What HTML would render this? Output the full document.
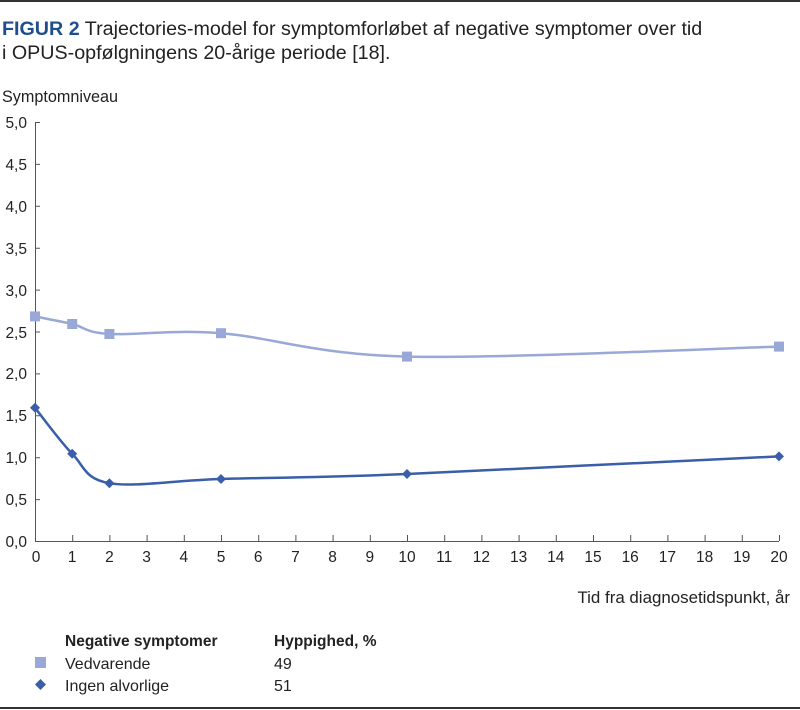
<!DOCTYPE html><html><head><meta charset="utf-8"><style>body{margin:0;background:#fff}svg{display:block;font-family:"Liberation Sans",sans-serif}</style></head><body>
<svg width="800" height="710" xmlns="http://www.w3.org/2000/svg">
<rect x="0" y="0" width="800" height="2" fill="#333"/>
<rect x="0" y="707" width="800" height="2" fill="#333"/>
<text x="2" y="35" font-size="19.7" fill="#222"><tspan fill="#1f4e8c" font-weight="bold">FIGUR 2</tspan> Trajectories-model for symptomforløbet af negative symptomer over tid</text>
<text x="2" y="59" font-size="19.7" fill="#222">i OPUS-opfølgningens 20-årige periode [18].</text>
<text x="2" y="102" font-size="16.2" fill="#222">Symptomniveau</text>
<g font-size="15.5" fill="#222" text-anchor="end">
<text x="27" y="128">5,0</text><text x="27" y="170">4,5</text><text x="27" y="212">4,0</text><text x="27" y="254">3,5</text><text x="27" y="296">3,0</text><text x="27" y="338">2,5</text><text x="27" y="379">2,0</text><text x="27" y="421">1,5</text><text x="27" y="463">1,0</text><text x="27" y="505">0,5</text><text x="27" y="547">0,0</text>
</g>
<g stroke="#555" stroke-width="1" fill="none">
<path d="M35.5 122V541.5H779"/>
<path d="M35 122.5h5M35 164.4h5M35 206.3h5M35 248.2h5M35 290.1h5M35 332h5M35 373.9h5M35 415.8h5M35 457.7h5M35 499.6h5"/>
<path d="M72.7 541v-6M109.9 541v-6M147.1 541v-6M184.3 541v-6M221.5 541v-6M258.7 541v-6M295.9 541v-6M333.1 541v-6M370.3 541v-6M407.5 541v-6M444.7 541v-6M481.9 541v-6M519.1 541v-6M556.3 541v-6M593.5 541v-6M630.7 541v-6M667.9 541v-6M705.1 541v-6M742.3 541v-6M779.5 541v-6"/>
</g>
<g font-size="15.5" fill="#222" text-anchor="middle">
<text x="36" y="562">0</text><text x="72.2" y="562">1</text><text x="109.4" y="562">2</text><text x="146.6" y="562">3</text><text x="183.8" y="562">4</text><text x="221" y="562">5</text><text x="258.2" y="562">6</text><text x="295.4" y="562">7</text><text x="332.6" y="562">8</text><text x="369.8" y="562">9</text><text x="407" y="562">10</text><text x="444.2" y="562">11</text><text x="481.4" y="562">12</text><text x="518.6" y="562">13</text><text x="555.8" y="562">14</text><text x="593" y="562">15</text><text x="630.2" y="562">16</text><text x="667.4" y="562">17</text><text x="704.6" y="562">18</text><text x="741.8" y="562">19</text><text x="779" y="562">20</text>
</g>
<text x="790" y="603" font-size="16.9" fill="#222" text-anchor="end">Tid fra diagnosetidspunkt, år</text>
<path d="M35 316.4C41.2 317.7 59.8 321.1 72.2 324C84.6 326.9 84.6 332.5 109.4 334C134.2 335.5 171.4 329.4 221 333.2C270.6 337 314 354.4 407 356.6C500 358.8 717 348.3 779 346.6" stroke="#99a8d6" stroke-width="2.5" fill="none"/>
<path d="M35 407.8C41.2 415.5 59.8 441.2 72.2 453.8C84.6 466.4 84.6 479 109.4 483.2C134.2 487.4 171.4 480.5 221 479C270.6 477.5 314 477.8 407 474C500 469.6 717 459.3 779 456.4" stroke="#3a5ea8" stroke-width="2.5" fill="none"/>
<g fill="#99a8d6"><rect x="30" y="311.4" width="10" height="10"/><rect x="67.2" y="319" width="10" height="10"/><rect x="104.4" y="329" width="10" height="10"/><rect x="216" y="328.2" width="10" height="10"/><rect x="402" y="351.6" width="10" height="10"/><rect x="774" y="341.6" width="10" height="10"/></g>
<g fill="#3a5ea8"><path d="M35 402.8l5 5-5 5-5-5z"/><path d="M72.2 448.8l5 5-5 5-5-5z"/><path d="M109.4 478.2l5 5-5 5-5-5z"/><path d="M221 474l5 5-5 5-5-5z"/><path d="M407 469l5 5-5 5-5-5z"/><path d="M779 451.4l5 5-5 5-5-5z"/></g>
<text x="65" y="646" font-size="15.5" font-weight="bold" fill="#222">Negative symptomer</text>
<text x="274" y="646" font-size="15.5" font-weight="bold" fill="#222">Hyppighed, %</text>
<rect x="35" y="657" width="11" height="11" fill="#99a8d6"/>
<text x="65" y="669" font-size="16" fill="#222">Vedvarende</text><text x="274" y="669" font-size="16" fill="#222">49</text>
<path d="M40.5 679l5.5 5.5-5.5 5.5-5.5-5.5z" fill="#3a5ea8"/>
<text x="65" y="691" font-size="16" fill="#222">Ingen alvorlige</text><text x="274" y="691" font-size="16" fill="#222">51</text>
</svg></body></html>
